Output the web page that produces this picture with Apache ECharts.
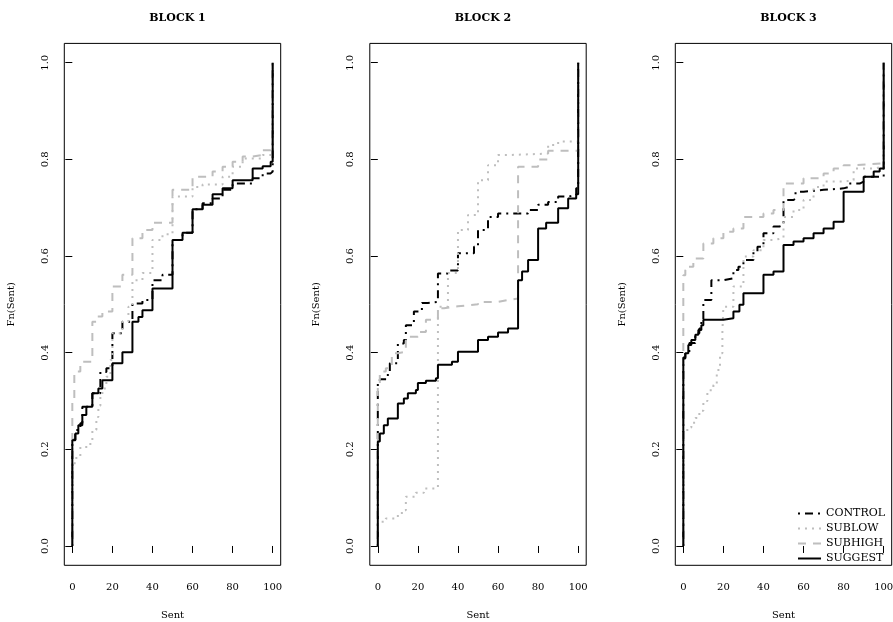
<!DOCTYPE html>
<html>
<head>
<meta charset="utf-8">
<title>Fn(Sent) by block</title>
<script src="https://cdn.jsdelivr.net/npm/echarts@6.0.0/dist/echarts.min.js"></script>
<style>
  html, body { margin: 0; padding: 0; background: #ffffff; }
  #chart { width: 893px; height: 622px; }
</style>
</head>
<body>
<div id="chart"></div>
<script>
// step points [sent, Fn(sent)]
const b1Control = [[0, 0], [0, 0.22], [1.5, 0.24], [4, 0.254], [5, 0.288], [10, 0.316], [14, 0.36], [17, 0.368], [20, 0.44], [25, 0.464], [30, 0.502], [35, 0.509], [40, 0.55], [45, 0.561], [50, 0.633], [55, 0.648], [60, 0.697], [65, 0.709], [70, 0.719], [75, 0.737], [80, 0.75], [90, 0.761], [95, 0.771], [99, 0.775], [100, 1]];
const b1Sublow = [[0, 0], [0, 0.171], [2, 0.185], [4, 0.205], [9, 0.219], [10, 0.24], [12, 0.267], [13, 0.29], [14, 0.31], [15, 0.326], [17, 0.35], [19, 0.385], [20, 0.44], [25, 0.464], [28, 0.495], [30, 0.55], [35, 0.565], [40, 0.633], [45, 0.645], [50, 0.723], [60, 0.743], [65, 0.748], [75, 0.764], [80, 0.785], [85, 0.802], [95, 0.809], [99, 0.812], [100, 1]];
const b1Subhigh = [[0, 0], [0, 0.3], [1, 0.361], [4, 0.381], [10, 0.464], [12, 0.475], [15, 0.485], [20, 0.537], [25, 0.561], [30, 0.637], [35, 0.654], [40, 0.669], [50, 0.737], [60, 0.764], [70, 0.775], [75, 0.785], [80, 0.795], [85, 0.806], [90, 0.809], [95, 0.819], [99, 0.82], [100, 1]];
const b1Suggest = [[0, 0], [0, 0.219], [1.5, 0.233], [3, 0.25], [5, 0.271], [7, 0.288], [10, 0.316], [13, 0.326], [15, 0.343], [20, 0.378], [25, 0.401], [30, 0.464], [33, 0.474], [35, 0.488], [40, 0.533], [50, 0.633], [55, 0.648], [60, 0.697], [65, 0.706], [70, 0.728], [75, 0.74], [80, 0.757], [90, 0.781], [95, 0.786], [99, 0.795], [100, 1]];

const b2Control = [[0, 0], [0, 0.34], [1, 0.345], [5, 0.36], [6, 0.378], [10, 0.419], [13, 0.426], [14, 0.457], [18, 0.485], [22, 0.503], [25, 0.505], [30, 0.564], [35, 0.57], [40, 0.606], [48, 0.619], [50, 0.654], [55, 0.681], [60, 0.688], [75, 0.695], [80, 0.706], [85, 0.712], [90, 0.723], [95, 0.726], [99, 0.74], [100, 1]];
const b2Sublow = [[0, 0], [0, 0.05], [4, 0.057], [10, 0.065], [12, 0.074], [14, 0.102], [19, 0.11], [23, 0.119], [30, 0.495], [35, 0.565], [40, 0.654], [45, 0.685], [50, 0.757], [55, 0.788], [60, 0.809], [65, 0.812], [85, 0.83], [90, 0.837], [100, 1]];
const b2Subhigh = [[0, 0], [0, 0.33], [1, 0.361], [4, 0.368], [7, 0.399], [10, 0.402], [14, 0.433], [20, 0.443], [24, 0.468], [30, 0.492], [33, 0.496], [40, 0.5], [50, 0.505], [60, 0.509], [65, 0.512], [70, 0.785], [80, 0.8], [85, 0.818], [100, 1]];
const b2Suggest = [[0, 0], [0, 0.216], [1, 0.233], [3, 0.25], [5, 0.264], [10, 0.295], [13, 0.305], [15, 0.316], [19, 0.323], [20, 0.337], [24, 0.342], [29, 0.347], [30, 0.375], [37, 0.381], [40, 0.402], [50, 0.426], [55, 0.433], [60, 0.442], [65, 0.45], [70, 0.55], [72, 0.568], [75, 0.592], [80, 0.657], [84, 0.669], [90, 0.699], [95, 0.719], [99, 0.728], [100, 1]];

const b3Control = [[0, 0], [0, 0.39], [1, 0.4], [3, 0.42], [6, 0.44], [8, 0.45], [9, 0.468], [10, 0.509], [14, 0.55], [20, 0.554], [25, 0.571], [27.5, 0.578], [30, 0.592], [35, 0.609], [37, 0.619], [40, 0.647], [45, 0.661], [48, 0.664], [50, 0.716], [55, 0.719], [56, 0.733], [60, 0.737], [70, 0.74], [80, 0.743], [82.5, 0.75], [88, 0.754], [90, 0.764], [100, 1]];
const b3Sublow = [[0, 0], [0, 0.236], [2, 0.245], [4, 0.255], [6, 0.265], [8, 0.28], [10, 0.3], [12, 0.322], [15, 0.333], [16.7, 0.364], [18.3, 0.399], [19.5, 0.443], [20, 0.495], [25, 0.537], [30, 0.599], [35, 0.612], [40, 0.633], [45, 0.637], [50, 0.681], [55, 0.695], [60, 0.716], [65, 0.743], [70, 0.754], [80, 0.757], [85, 0.781], [95, 0.785], [100, 1]];
const b3Subhigh = [[0, 0], [0, 0.56], [1, 0.571], [2, 0.578], [5, 0.595], [10, 0.626], [15, 0.637], [20, 0.65], [25, 0.657], [30, 0.681], [40, 0.688], [45, 0.695], [50, 0.75], [60, 0.761], [70, 0.771], [75, 0.781], [80, 0.788], [85, 0.792], [100, 1]];
const b3Suggest = [[0, 0], [0, 0.388], [1, 0.399], [2.5, 0.416], [4, 0.426], [6, 0.437], [7.5, 0.447], [9, 0.457], [10, 0.468], [20, 0.471], [25, 0.485], [28, 0.499], [30, 0.523], [40, 0.561], [45, 0.568], [50, 0.623], [55, 0.63], [60, 0.637], [65, 0.647], [70, 0.657], [75, 0.671], [80, 0.733], [90, 0.764], [95, 0.775], [98, 0.781], [100, 1]];

const blockTitles = ['BLOCK 1', 'BLOCK 2', 'BLOCK 3'];
const groupNames = ['CONTROL', 'SUBLOW', 'SUBHIGH', 'SUGGEST'];
const xTicks = [0, 20, 40, 60, 80, 100];
const yTicks = [0, 0.2, 0.4, 0.6, 0.8, 1.0];

const blocks = [
  [b1Control, b1Sublow, b1Subhigh, b1Suggest],
  [b2Control, b2Sublow, b2Subhigh, b2Suggest],
  [b3Control, b3Sublow, b3Subhigh, b3Suggest],
];

const font = 'DejaVu Serif';
const lineStyles = {
  CONTROL: { color: '#000000', width: 2, type: [2, 5, 8, 5] },
  SUBLOW: { color: '#bebebe', width: 2, type: [2, 5] },
  SUBHIGH: { color: '#bebebe', width: 2, type: [8, 7] },
  SUGGEST: { color: '#000000', width: 2, type: 'solid' },
};

// panel boxes (R pads each axis by 4%)
const gridLeft = [64.3, 369.8, 675.3];
const gridWidth = 216.4;
const gridTop = 43.4;
const gridHeight = 521.9;

const grids = [];
const xAxes = [];
const yAxes = [];
const titles = [];
const series = [];

blocks.forEach((block, i) => {
  grids.push({
    left: gridLeft[i],
    top: gridTop,
    width: gridWidth,
    height: gridHeight,
    show: true,
    borderColor: '#000000',
    borderWidth: 1,
    containLabel: false,
    outerBoundsMode: 'none',
  });
  xAxes.push({
    gridIndex: i,
    type: 'value',
    min: -4,
    max: 104,
    name: 'Sent',
    nameLocation: 'middle',
    nameGap: 45,
    nameTextStyle: { fontFamily: font, fontSize: 10, color: '#000000' },
    axisLine: { show: false },
    axisTick: { show: true, length: 7, customValues: xTicks, lineStyle: { color: '#000000' } },
    axisLabel: { customValues: xTicks, margin: 17, fontFamily: font, fontSize: 10, color: '#000000' },
    splitLine: { show: false },
  });
  yAxes.push({
    gridIndex: i,
    type: 'value',
    min: -0.04,
    max: 1.04,
    name: 'Fn(Sent)',
    nameLocation: 'middle',
    nameRotate: 90,
    nameGap: 48,
    nameTextStyle: { fontFamily: font, fontSize: 10, color: '#000000' },
    axisLine: { show: false },
    axisTick: { show: true, length: 7, customValues: yTicks, lineStyle: { color: '#000000' } },
    axisLabel: {
      customValues: yTicks,
      rotate: 90,
      margin: 14,
      fontFamily: font,
      fontSize: 10,
      color: '#000000',
      formatter: (v) => v.toFixed(1),
    },
    splitLine: { show: false },
  });
  titles.push({
    text: blockTitles[i],
    left: gridLeft[i] + gridWidth / 2,
    top: 8,
    textAlign: 'center',
    textStyle: { fontFamily: font, fontWeight: 'bold', fontSize: 11, color: '#000000' },
  });
  block.forEach((points, k) => {
    const name = groupNames[k];
    series.push({
      name,
      type: 'line',
      xAxisIndex: i,
      yAxisIndex: i,
      data: points,
      step: 'end',
      symbol: 'none',
      showSymbol: false,
      lineStyle: lineStyles[name],
      itemStyle: { color: lineStyles[name].color },
      emphasis: { disabled: true },
    });
  });
});

const chart = echarts.init(document.getElementById('chart'), null, { renderer: 'canvas' });
chart.setOption({
  animation: false,
  backgroundColor: '#ffffff',
  title: titles,
  grid: grids,
  xAxis: xAxes,
  yAxis: yAxes,
  legend: {
    data: groupNames,
    orient: 'vertical',
    left: 792,
    top: 503,
    itemWidth: 23,
    itemHeight: 10,
    itemGap: 4,
    selectedMode: false,
    // line only, no marker on the key
    itemStyle: { opacity: 0 },
    textStyle: { fontFamily: font, fontSize: 11, color: '#000000' },
  },
  series,
});
</script>
</body>
</html>
